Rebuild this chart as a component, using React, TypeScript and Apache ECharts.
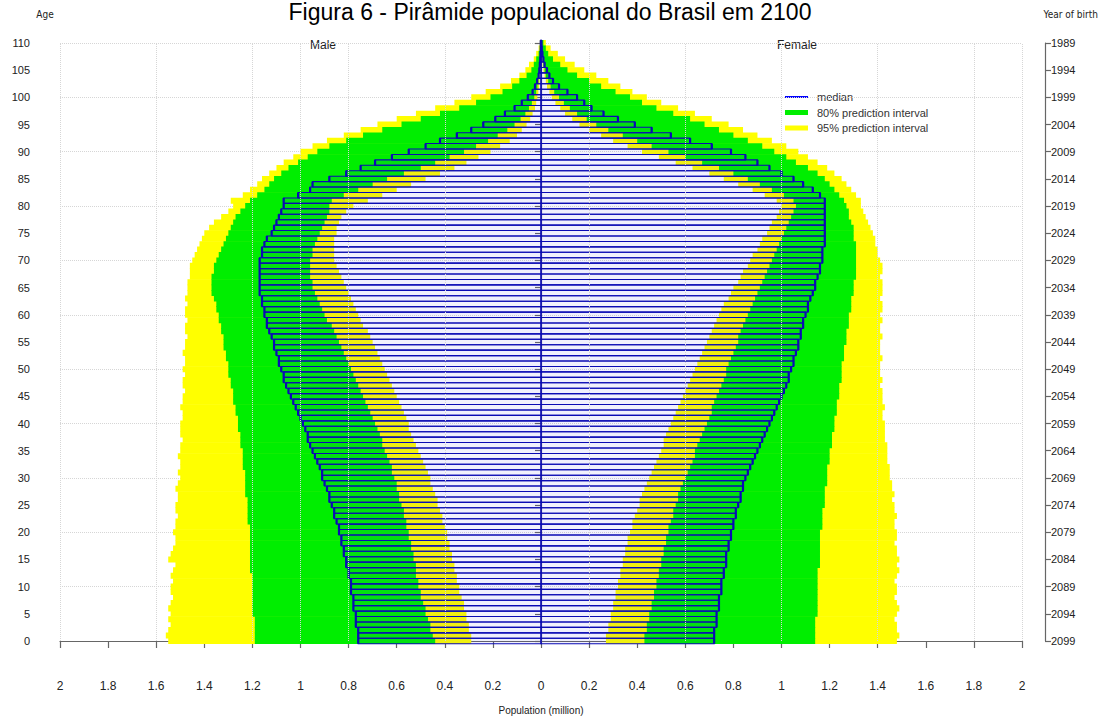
import React, { useEffect, useRef } from "react";
import * as echarts from "echarts";

// ---------- DATA (population in millions, ages 0..110) ----------
const ages: number[] = Array.from({ length: 111 }, (_, i) => i);

const maleMedian = [
  0.76, 0.76, 0.76, 0.77, 0.77, 0.77, 0.78, 0.78, 0.78, 0.79,
  0.79, 0.79, 0.80, 0.80, 0.81, 0.81, 0.82, 0.82, 0.83, 0.83,
  0.84, 0.84, 0.85, 0.86, 0.86, 0.87, 0.88, 0.88, 0.89, 0.90,
  0.91, 0.91, 0.92, 0.93, 0.94, 0.95, 0.96, 0.97, 0.97, 0.98,
  0.99, 1.00, 1.01, 1.02, 1.03, 1.04, 1.05, 1.06, 1.07, 1.07,
  1.08, 1.09, 1.09, 1.10, 1.11, 1.11, 1.12, 1.13, 1.14, 1.14,
  1.15, 1.15, 1.16, 1.16, 1.17, 1.17, 1.17, 1.17, 1.17, 1.17,
  1.17, 1.16, 1.16, 1.15, 1.14, 1.12, 1.11, 1.10, 1.09, 1.08,
  1.07, 1.07, 1.01, 0.96, 0.95, 0.88, 0.81, 0.75, 0.69, 0.62,
  0.55, 0.48, 0.42, 0.35, 0.29, 0.24, 0.19, 0.15, 0.11, 0.08,
  0.055, 0.035, 0.025, 0.016, 0.010, 0.007, 0.005, 0.003, 0.002, 0.001, 0.001,
];
const maleLow80 = [
  0.44, 0.45, 0.46, 0.46, 0.47, 0.48, 0.48, 0.49, 0.50, 0.50,
  0.51, 0.51, 0.52, 0.52, 0.52, 0.53, 0.53, 0.54, 0.54, 0.55,
  0.55, 0.56, 0.56, 0.57, 0.57, 0.58, 0.59, 0.59, 0.60, 0.60,
  0.61, 0.62, 0.62, 0.63, 0.64, 0.65, 0.66, 0.66, 0.67, 0.68,
  0.69, 0.70, 0.71, 0.72, 0.73, 0.74, 0.75, 0.76, 0.77, 0.78,
  0.79, 0.80, 0.81, 0.82, 0.83, 0.84, 0.85, 0.86, 0.87, 0.89,
  0.90, 0.91, 0.92, 0.93, 0.94, 0.95, 0.95, 0.96, 0.96, 0.96,
  0.96, 0.95, 0.95, 0.94, 0.93, 0.92, 0.91, 0.90, 0.89, 0.88,
  0.88, 0.87, 0.82, 0.76, 0.70, 0.64, 0.57, 0.50, 0.44, 0.38,
  0.32, 0.27, 0.22, 0.18, 0.14, 0.11, 0.085, 0.065, 0.05, 0.038,
  0.028, 0.02, 0.015, 0.011, 0.008, 0.006, 0.004, 0.003, 0.002, 0.001, 0.001,
];
const maleHigh80 = [
  1.19, 1.19, 1.19, 1.19, 1.19, 1.20, 1.20, 1.20, 1.20, 1.20,
  1.20, 1.20, 1.20, 1.21, 1.21, 1.21, 1.21, 1.21, 1.21, 1.21,
  1.21, 1.21, 1.22, 1.22, 1.22, 1.22, 1.22, 1.23, 1.23, 1.23,
  1.23, 1.23, 1.24, 1.24, 1.24, 1.24, 1.25, 1.25, 1.25, 1.26,
  1.26, 1.26, 1.27, 1.27, 1.28, 1.28, 1.28, 1.29, 1.29, 1.30,
  1.30, 1.30, 1.31, 1.31, 1.32, 1.32, 1.32, 1.33, 1.33, 1.34,
  1.34, 1.35, 1.35, 1.36, 1.37, 1.37, 1.37, 1.37, 1.36, 1.36,
  1.35, 1.34, 1.33, 1.32, 1.31, 1.30, 1.29, 1.28, 1.27, 1.25,
  1.23, 1.21, 1.18, 1.15, 1.13, 1.11, 1.08, 1.05, 1.01, 0.97,
  0.93, 0.88, 0.81, 0.74, 0.66, 0.58, 0.50, 0.42, 0.34, 0.27,
  0.21, 0.16, 0.12, 0.09, 0.06, 0.04, 0.03, 0.02, 0.01, 0.005, 0.002,
];
const maleLow95 = [
  0.29, 0.29, 0.30, 0.30, 0.31, 0.31, 0.32, 0.32, 0.33, 0.34,
  0.34, 0.35, 0.35, 0.36, 0.36, 0.37, 0.37, 0.38, 0.38, 0.39,
  0.39, 0.40, 0.41, 0.41, 0.42, 0.43, 0.43, 0.44, 0.45, 0.46,
  0.46, 0.47, 0.48, 0.49, 0.50, 0.51, 0.52, 0.53, 0.54, 0.55,
  0.55, 0.56, 0.57, 0.58, 0.59, 0.60, 0.61, 0.62, 0.63, 0.64,
  0.65, 0.66, 0.67, 0.68, 0.69, 0.70, 0.71, 0.72, 0.74, 0.75,
  0.76, 0.77, 0.78, 0.79, 0.80, 0.81, 0.82, 0.83, 0.84, 0.85,
  0.86, 0.86, 0.86, 0.86, 0.86, 0.85, 0.85, 0.84, 0.83, 0.81,
  0.78, 0.72, 0.66, 0.60, 0.54, 0.48, 0.42, 0.36, 0.31, 0.26,
  0.21, 0.17, 0.13, 0.10, 0.08, 0.06, 0.045, 0.035, 0.025, 0.02,
  0.015, 0.011, 0.008, 0.006, 0.004, 0.003, 0.002, 0.0015, 0.001, 0.0005, 0.0003,
];
const maleHigh95 = [
  1.55, 1.56, 1.55, 1.54, 1.55, 1.54, 1.55, 1.54, 1.53, 1.54,
  1.54, 1.53, 1.54, 1.53, 1.52, 1.55, 1.54, 1.53, 1.52, 1.52,
  1.53, 1.52, 1.52, 1.51, 1.52, 1.52, 1.51, 1.51, 1.52, 1.51,
  1.50, 1.51, 1.50, 1.50, 1.51, 1.50, 1.50, 1.49, 1.50, 1.50,
  1.50, 1.49, 1.49, 1.50, 1.49, 1.49, 1.48, 1.49, 1.49, 1.48,
  1.49, 1.48, 1.48, 1.49, 1.48, 1.48, 1.47, 1.48, 1.48, 1.47,
  1.48, 1.48, 1.47, 1.48, 1.47, 1.47, 1.47, 1.46, 1.46, 1.46,
  1.45, 1.44, 1.43, 1.42, 1.41, 1.40, 1.38, 1.36, 1.33, 1.30,
  1.28, 1.29, 1.24, 1.21, 1.18, 1.16, 1.13, 1.10, 1.07, 1.03,
  1.00, 0.95, 0.89, 0.82, 0.75, 0.68, 0.60, 0.52, 0.44, 0.36,
  0.29, 0.23, 0.17, 0.125, 0.09, 0.065, 0.05, 0.03, 0.02, 0.01, 0.005,
];

const femaleMedian = [
  0.72, 0.72, 0.72, 0.73, 0.73, 0.73, 0.74, 0.74, 0.74, 0.75,
  0.75, 0.75, 0.76, 0.76, 0.77, 0.77, 0.77, 0.78, 0.78, 0.79,
  0.79, 0.80, 0.80, 0.81, 0.81, 0.82, 0.83, 0.83, 0.84, 0.84,
  0.85, 0.86, 0.87, 0.88, 0.89, 0.90, 0.91, 0.92, 0.93, 0.94,
  0.95, 0.96, 0.97, 0.98, 0.99, 1.00, 1.01, 1.02, 1.03, 1.03,
  1.04, 1.05, 1.05, 1.06, 1.07, 1.07, 1.08, 1.08, 1.09, 1.09,
  1.10, 1.11, 1.11, 1.12, 1.13, 1.14, 1.14, 1.15, 1.16, 1.16,
  1.17, 1.17, 1.17, 1.18, 1.18, 1.18, 1.18, 1.18, 1.18, 1.18,
  1.18, 1.18, 1.16, 1.13, 1.09, 1.05, 1.00, 0.95, 0.90, 0.85,
  0.79, 0.71, 0.62, 0.54, 0.46, 0.39, 0.32, 0.26, 0.21, 0.18,
  0.15, 0.11, 0.075, 0.05, 0.035, 0.025, 0.015, 0.01, 0.006, 0.003, 0.002,
];
const femaleLow80 = [
  0.43, 0.43, 0.44, 0.44, 0.45, 0.45, 0.46, 0.46, 0.47, 0.47,
  0.48, 0.48, 0.49, 0.49, 0.50, 0.50, 0.51, 0.51, 0.52, 0.52,
  0.53, 0.53, 0.54, 0.55, 0.55, 0.56, 0.57, 0.57, 0.58, 0.59,
  0.60, 0.61, 0.62, 0.63, 0.64, 0.64, 0.65, 0.66, 0.67, 0.68,
  0.69, 0.70, 0.71, 0.71, 0.72, 0.73, 0.74, 0.75, 0.76, 0.77,
  0.77, 0.78, 0.79, 0.80, 0.81, 0.82, 0.82, 0.83, 0.84, 0.85,
  0.86, 0.87, 0.88, 0.89, 0.90, 0.91, 0.92, 0.93, 0.94, 0.95,
  0.96, 0.97, 0.98, 0.99, 1.00, 1.01, 1.02, 1.03, 1.04, 1.05,
  1.06, 1.05, 1.01, 0.96, 0.91, 0.86, 0.80, 0.74, 0.67, 0.60,
  0.53, 0.46, 0.40, 0.34, 0.28, 0.23, 0.19, 0.15, 0.12, 0.095,
  0.075, 0.055, 0.04, 0.03, 0.02, 0.015, 0.01, 0.007, 0.005, 0.003, 0.002,
];
const femaleHigh80 = [
  1.14, 1.14, 1.14, 1.14, 1.14, 1.15, 1.15, 1.15, 1.15, 1.15,
  1.15, 1.15, 1.15, 1.15, 1.16, 1.16, 1.16, 1.16, 1.16, 1.16,
  1.16, 1.17, 1.17, 1.17, 1.17, 1.18, 1.18, 1.18, 1.18, 1.19,
  1.19, 1.19, 1.19, 1.20, 1.20, 1.20, 1.21, 1.21, 1.21, 1.22,
  1.22, 1.22, 1.23, 1.23, 1.23, 1.24, 1.24, 1.24, 1.25, 1.25,
  1.25, 1.25, 1.26, 1.26, 1.26, 1.27, 1.27, 1.27, 1.28, 1.28,
  1.28, 1.29, 1.29, 1.29, 1.30, 1.30, 1.30, 1.31, 1.31, 1.31,
  1.31, 1.31, 1.31, 1.31, 1.30, 1.30, 1.30, 1.29, 1.28, 1.28,
  1.27, 1.26, 1.24, 1.22, 1.20, 1.18, 1.15, 1.11, 1.06, 1.02,
  0.97, 0.92, 0.86, 0.80, 0.74, 0.68, 0.62, 0.55, 0.48, 0.42,
  0.37, 0.31, 0.25, 0.20, 0.15, 0.11, 0.08, 0.05, 0.03, 0.02, 0.01,
];
const femaleLow95 = [
  0.27, 0.27, 0.28, 0.28, 0.29, 0.29, 0.30, 0.30, 0.31, 0.31,
  0.32, 0.32, 0.33, 0.33, 0.34, 0.34, 0.35, 0.35, 0.36, 0.36,
  0.37, 0.38, 0.38, 0.39, 0.40, 0.41, 0.41, 0.42, 0.43, 0.44,
  0.45, 0.46, 0.47, 0.48, 0.49, 0.50, 0.51, 0.51, 0.52, 0.53,
  0.54, 0.55, 0.56, 0.57, 0.58, 0.59, 0.60, 0.61, 0.62, 0.63,
  0.64, 0.65, 0.66, 0.67, 0.68, 0.69, 0.70, 0.71, 0.72, 0.73,
  0.74, 0.75, 0.76, 0.78, 0.79, 0.80, 0.82, 0.83, 0.84, 0.86,
  0.87, 0.88, 0.90, 0.91, 0.92, 0.94, 0.95, 0.96, 0.98, 0.99,
  1.00, 0.98, 0.93, 0.88, 0.82, 0.76, 0.70, 0.63, 0.56, 0.49,
  0.42, 0.36, 0.30, 0.25, 0.20, 0.16, 0.13, 0.10, 0.08, 0.06,
  0.045, 0.035, 0.025, 0.02, 0.015, 0.01, 0.007, 0.005, 0.003, 0.002, 0.001,
];
const femaleHigh95 = [
  1.48, 1.49, 1.48, 1.48, 1.47, 1.48, 1.49, 1.48, 1.47, 1.48,
  1.48, 1.47, 1.48, 1.49, 1.48, 1.49, 1.48, 1.48, 1.47, 1.48,
  1.48, 1.47, 1.47, 1.48, 1.47, 1.47, 1.46, 1.47, 1.46, 1.46,
  1.45, 1.45, 1.45, 1.44, 1.44, 1.44, 1.44, 1.43, 1.43, 1.43,
  1.43, 1.42, 1.42, 1.43, 1.42, 1.42, 1.42, 1.41, 1.42, 1.41,
  1.41, 1.41, 1.42, 1.41, 1.41, 1.41, 1.42, 1.41, 1.41, 1.42,
  1.41, 1.42, 1.42, 1.41, 1.42, 1.42, 1.42, 1.41, 1.42, 1.42,
  1.41, 1.40, 1.40, 1.39, 1.39, 1.38, 1.37, 1.36, 1.35, 1.34,
  1.33, 1.33, 1.31, 1.29, 1.27, 1.25, 1.22, 1.19, 1.15, 1.11,
  1.07, 1.02, 0.96, 0.90, 0.84, 0.78, 0.71, 0.64, 0.57, 0.50,
  0.44, 0.38, 0.33, 0.28, 0.23, 0.18, 0.14, 0.10, 0.07, 0.04, 0.02,
];

const xTickStep = 0.2;
const ageTickStep = 5;
const gridAgeStep = 10;
const gridX = [-2, -1.6, -1.2, -1.0, -0.8, -0.4, 0.2, 0.6, 1.0, 1.4, 1.8, 2.0];
const lastBirthYear = 2099;

const TITLE = "Figura 6 - Pirâmide populacional do Brasil em 2100";
const YELLOW = "#ffff00";
const GREEN = "#00ee00";
const BLUE = "#0a0ab4";
const FONT = "Liberation Sans, Arial, Helvetica, sans-serif";
const NARROW = "Liberation Sans Narrow, DejaVu Sans Condensed, Liberation Sans, sans-serif";

function bandData(lo: number[], hi: number[], sign: number) {
  return ages.map((a) => [a, sign * lo[a], sign * hi[a]]);
}
function medianData(med: number[], sign: number) {
  return ages.map((a) => [a, sign * med[a]]);
}

function bandRender(color: string) {
  return (params: any, api: any) => {
    const age = api.value(0);
    const p1 = api.coord([api.value(1), age + 0.5]);
    const p2 = api.coord([api.value(2), age - 0.5]);
    const x = Math.min(p1[0], p2[0]);
    const w = Math.abs(p2[0] - p1[0]);
    const y = Math.min(p1[1], p2[1]) - 0.3;
    const h = Math.abs(p2[1] - p1[1]) + 0.6;
    return {
      type: "rect",
      shape: { x, y, width: w, height: h },
      style: { fill: color },
    };
  };
}

function medianRender(params: any, api: any) {
  const age = api.value(0);
  const p0 = api.coord([0, age + 0.5]);
  const p1 = api.coord([api.value(1), age - 0.5]);
  const x = Math.min(p0[0], p1[0]);
  const w = Math.abs(p1[0] - p0[0]);
  const y = Math.min(p0[1], p1[1]);
  const h = Math.abs(p1[1] - p0[1]);
  return {
    type: "group",
    children: [
      {
        type: "rect",
        shape: { x, y, width: w, height: h },
        style: { fill: "rgba(40,40,230,0.07)", stroke: BLUE, lineWidth: 1.1 },
      },
      {
        type: "line",
        shape: { x1: p1[0], y1: y, x2: p1[0], y2: y + h },
        style: { stroke: BLUE, lineWidth: 2.2 },
      },
    ],
  };
}

function fmtX(v: number) {
  return String(Math.abs(Math.round(v * 10) / 10));
}

export default function App() {
  const ref = useRef<HTMLDivElement>(null);

  useEffect(() => {
    if (!ref.current) return;
    document.body.style.margin = "0";
    document.body.style.overflow = "hidden";
    document.documentElement.style.overflow = "hidden";
    const chart = echarts.init(ref.current, undefined, { renderer: "svg", width: 1100, height: 720 });
    const axisColor = "#666";
    const textColor = "#222";

    const bandSeries = (name: string, data: any[], color: string) => ({
      type: "custom",
      name,
      data,
      clip: false,
      silent: true,
      z: 2,
      xAxisIndex: 0,
      yAxisIndex: 0,
      encode: { x: [1, 2], y: 0 },
      itemStyle: { color },
      renderItem: bandRender(color),
    });
    const medSeries = (data: any[]) => ({
      type: "custom",
      name: "median",
      data,
      clip: false,
      silent: true,
      z: 4,
      xAxisIndex: 0,
      yAxisIndex: 0,
      encode: { x: 1, y: 0 },
      itemStyle: { color: BLUE },
      renderItem: medianRender,
    });

    const option: any = {
      animation: false,
      backgroundColor: "#ffffff",
      textStyle: { fontFamily: FONT },
      title: {
        text: TITLE,
        left: "center",
        top: 0,
        padding: 0,
        textStyle: { fontSize: 23, fontWeight: "normal", color: "#000", fontFamily: FONT },
      },
      grid: { left: 60, right: 78, top: 43, bottom: 76 },
      xAxis: [
        {
          type: "value",
          min: -2,
          max: 2,
          interval: xTickStep,
          position: "bottom",
          offset: 27,
          axisLine: { show: true, lineStyle: { color: axisColor, width: 1.2 } },
          axisTick: { show: true, length: 7, lineStyle: { color: axisColor, width: 1.2 } },
          axisLabel: { formatter: fmtX, color: textColor, fontSize: 12, margin: 12, fontFamily: FONT },
          splitLine: { show: false },
          name: "Population (million)",
          nameLocation: "middle",
          nameGap: 37,
          nameTextStyle: { fontSize: 10, color: textColor, fontFamily: FONT },
        },
      ],
      yAxis: [
        {
          type: "value",
          min: 0,
          max: 110,
          interval: ageTickStep,
          position: "left",
          offset: 22,
          axisLine: { show: true, lineStyle: { color: axisColor, width: 1.2 } },
          axisTick: { show: true, length: 6, lineStyle: { color: axisColor, width: 1.2 } },
          axisLabel: { color: textColor, fontSize: 11, margin: 8, fontFamily: FONT },
          splitLine: { show: false },
        },
        {
          type: "value",
          min: 0,
          max: 110,
          interval: ageTickStep,
          position: "right",
          offset: 23,
          axisLine: { show: true, lineStyle: { color: axisColor, width: 1.2 } },
          axisTick: { show: true, length: 6, lineStyle: { color: axisColor, width: 1.2 } },
          axisLabel: {
            color: textColor,
            fontSize: 11,
            margin: 6,
            fontFamily: FONT,
            formatter: (v: number) => String(lastBirthYear - v),
          },
          splitLine: { show: false },
        },
        {
          type: "value",
          min: 0,
          max: 110,
          interval: gridAgeStep,
          position: "left",
          axisLine: { show: false },
          axisTick: { show: false },
          axisLabel: { show: false },
          splitLine: { show: true, lineStyle: { color: "#d6d6d6", type: "dotted", width: 1 } },
        },
      ],
      series: [
        {
          type: "line",
          name: "grid",
          data: [],
          silent: true,
          z: 0,
          markLine: {
            silent: true,
            symbol: ["none", "none"],
            label: { show: false },
            lineStyle: { color: "#d6d6d6", type: "dotted", width: 1 },
            data: gridX.map((v) => ({ xAxis: v })),
          },
        },
        bandSeries("95% prediction interval", bandData(maleLow95, maleHigh95, -1), YELLOW),
        bandSeries("95% prediction interval", bandData(femaleLow95, femaleHigh95, 1), YELLOW),
        bandSeries("80% prediction interval", bandData(maleLow80, maleHigh80, -1), GREEN),
        bandSeries("80% prediction interval", bandData(femaleLow80, femaleHigh80, 1), GREEN),
        medSeries(medianData(maleMedian, -1)),
        medSeries(medianData(femaleMedian, 1)),
      ],
      graphic: [
        { type: "text", x: 45, y: 14, style: { text: "Age", fontSize: 10, fill: textColor, align: "center", verticalAlign: "middle", fontFamily: NARROW } },
        { type: "text", x: 1098, y: 14, style: { text: "Year of birth", fontSize: 10, fill: textColor, align: "right", verticalAlign: "middle", fontFamily: NARROW } },
        { type: "text", x: 323, y: 45, style: { text: "Male", fontSize: 12, fill: textColor, align: "center", verticalAlign: "middle", fontFamily: FONT } },
        { type: "text", x: 797, y: 45, style: { text: "Female", fontSize: 12, fill: textColor, align: "center", verticalAlign: "middle", fontFamily: FONT } },
        { type: "line", shape: { x1: 785, y1: 97, x2: 808, y2: 97 }, style: { stroke: "#0000ff", lineWidth: 2 } },
        { type: "line", shape: { x1: 785, y1: 112.5, x2: 808, y2: 112.5 }, style: { stroke: GREEN, lineWidth: 5 } },
        { type: "line", shape: { x1: 785, y1: 128, x2: 808, y2: 128 }, style: { stroke: YELLOW, lineWidth: 5 } },
        { type: "text", x: 817, y: 97, style: { text: "median", fontSize: 11, fill: "#333", verticalAlign: "middle", fontFamily: FONT } },
        { type: "text", x: 817, y: 112.5, style: { text: "80% prediction interval", fontSize: 11, fill: "#333", verticalAlign: "middle", fontFamily: FONT } },
        { type: "text", x: 817, y: 128, style: { text: "95% prediction interval", fontSize: 11, fill: "#333", verticalAlign: "middle", fontFamily: FONT } },
      ],
    };

    chart.setOption(option);
    return () => chart.dispose();
  }, []);

  return (
    <div
      ref={ref}
      style={{ position: "fixed", left: 0, top: 0, width: 1100, height: 720, background: "#fff" }}
    />
  );
}
